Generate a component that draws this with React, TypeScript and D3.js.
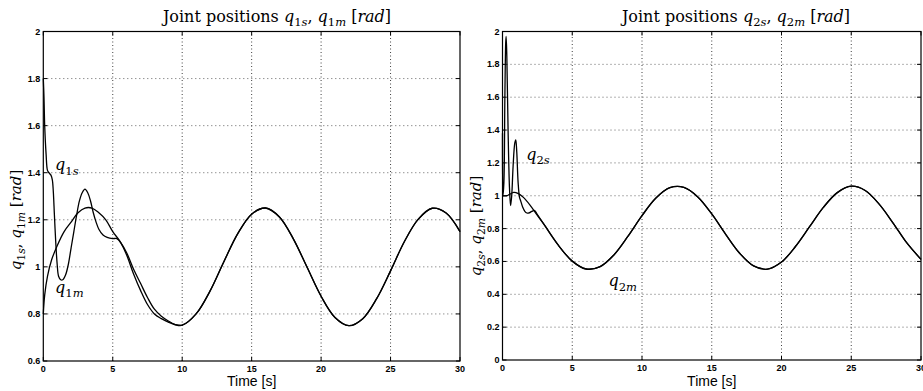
import { useRef, useEffect } from 'react';
import * as d3 from 'd3';

type Pt = [number, number];

// ---- data (time [s], value [rad]) ----
const q1sStart: Pt[] = [
  [0, 1.8], [0.05, 1.72], [0.1, 1.6], [0.2, 1.48], [0.3, 1.41], [0.4, 1.4], [0.55, 1.39],
  [0.65, 1.37], [0.72, 1.32], [0.8, 1.22], [0.9, 1.1], [1.0, 1.01], [1.1, 0.96], [1.25, 0.945],
  [1.4, 0.945], [1.6, 0.965], [1.8, 1.01], [2.0, 1.08], [2.2, 1.15], [2.4, 1.22], [2.6, 1.28],
  [2.8, 1.315], [3.0, 1.33], [3.2, 1.315], [3.4, 1.28], [3.6, 1.23], [3.8, 1.19], [4.0, 1.16],
  [4.3, 1.135], [4.6, 1.125], [5.0, 1.12], [5.3, 1.12], [5.6, 1.1], [6.0, 1.05], [6.5, 0.97],
  [7.0, 0.9], [7.5, 0.84], [8.0, 0.8], [8.5, 0.78], [9.0, 0.765], [9.5, 0.754],
];
const q1mStart: Pt[] = [
  [0, 0.8], [0.1, 0.88], [0.3, 0.96], [0.6, 1.03], [1.0, 1.09], [1.5, 1.15], [2.0, 1.19],
  [2.5, 1.23], [3.0, 1.25], [3.5, 1.25], [4.0, 1.23], [4.5, 1.2], [5.0, 1.15], [5.5, 1.11],
  [6.0, 1.06], [6.5, 0.99], [7.0, 0.93], [7.5, 0.87], [8.0, 0.82], [8.5, 0.79], [9.0, 0.77],
  [9.5, 0.755],
];
const q1Tail: Pt[] = [
  [10, 0.752], [11, 0.8], [12, 0.897], [13, 1.022], [14, 1.141], [15, 1.224], [16, 1.25],
  [17, 1.212], [18, 1.119], [19, 0.997], [20, 0.875], [21, 0.785], [22, 0.75], [23, 0.78],
  [24, 0.865], [25, 0.983], [26, 1.108], [27, 1.203], [28, 1.249], [29, 1.229], [30, 1.15],
];

const q2sStart: Pt[] = [
  [0, 1.38], [0.03, 1.0], [0.1, 1.08], [0.17, 1.6], [0.23, 1.93], [0.26, 1.97], [0.31, 1.85],
  [0.4, 1.4], [0.5, 1.05], [0.58, 0.94], [0.66, 1.0], [0.76, 1.18], [0.88, 1.32], [0.95, 1.34],
  [1.02, 1.27], [1.12, 1.08], [1.22, 0.99], [1.3, 0.97], [1.45, 0.93], [1.6, 0.905],
  [1.75, 0.895], [1.9, 0.895], [2.1, 0.905], [2.3, 0.91], [2.5, 0.885],
];
const q2mStart: Pt[] = [
  [0, 1.0], [0.3, 1.0], [0.5, 1.008], [0.8, 1.02], [1.1, 1.015], [1.5, 0.99], [2.0, 0.94],
  [2.5, 0.88],
];
const q2Tail: Pt[] = [
  [3, 0.822], [4, 0.699], [5, 0.602], [6, 0.554], [7, 0.569], [8, 0.641], [9, 0.754],
  [10, 0.879], [11, 0.986], [12, 1.049], [13, 1.051], [14, 0.993], [15, 0.889], [16, 0.765],
  [17, 0.65], [18, 0.573], [19, 0.553], [20, 0.596], [21, 0.691], [22, 0.81], [23, 0.929],
  [24, 1.019], [25, 1.058], [26, 1.032], [27, 0.949], [28, 0.834], [29, 0.711], [30, 0.613],
];

const xTicks = [0, 5, 10, 15, 20, 25, 30];
const y1Ticks = [0.6, 0.8, 1, 1.2, 1.4, 1.6, 1.8, 2];
const y2Ticks = [0, 0.2, 0.4, 0.6, 0.8, 1, 1.2, 1.4, 1.6, 1.8, 2];

type Seg = { t: string; i?: boolean; sub?: boolean };
const q = (n: string, s: string): Seg[] => [
  { t: 'q', i: true },
  { t: n, sub: true },
  { t: s, i: true, sub: true },
];
const rad: Seg[] = [{ t: ' [' }, { t: 'rad', i: true }, { t: ']' }];

const W = 923;
const H = 391;
const SERIF = '"DejaVu Serif", "Liberation Serif", serif';
const SANS = '"Liberation Sans", Arial, sans-serif';

function addMath(
  text: d3.Selection<SVGTextElement, unknown, null, undefined>,
  segs: Seg[],
  size: number,
) {
  let down = false;
  segs.forEach((s) => {
    const ts = text
      .append('tspan')
      .text(s.t)
      .attr('font-style', s.i ? 'italic' : 'normal')
      .attr('font-size', s.sub ? size * 0.72 : size);
    if (s.sub && !down) {
      ts.attr('dy', size * 0.28);
      down = true;
    } else if (!s.sub && down) {
      ts.attr('dy', -size * 0.28);
      down = false;
    }
  });
}

interface PanelCfg {
  x0: number;
  x1: number;
  y0: number;
  y1: number;
  yDomain: [number, number];
  yTicks: number[];
  series: Pt[][];
  title: Seg[];
  ylabel: Seg[];
  titleX: number;
  ylabelY: number;
  ylabelX: number;
  labels: { segs: Seg[]; t: number; v: number }[];
}

export default function App() {
  const svgRef = useRef<SVGSVGElement>(null);

  useEffect(() => {
    document.body.style.margin = '0';
    const svg = d3.select(svgRef.current);
    svg.selectAll('*').remove();
    svg.append('rect').attr('width', W).attr('height', H).attr('fill', '#fff');

    const panels: PanelCfg[] = [
      {
        x0: 43.3, x1: 460, y0: 361, y1: 31.5,
        yDomain: [0.6, 2], yTicks: y1Ticks,
        series: [[...q1sStart, ...q1Tail], [...q1mStart, ...q1Tail]],
        title: [{ t: 'Joint positions ' }, ...q('1', 's'), { t: ', ' }, ...q('1', 'm'), ...rad],
        ylabel: [...q('1', 's'), { t: ', ' }, ...q('1', 'm'), ...rad],
        titleX: 277, ylabelX: 21, ylabelY: 220,
        labels: [
          { segs: q('1', 's'), t: 0.85, v: 1.41 },
          { segs: q('1', 'm'), t: 0.85, v: 0.89 },
        ],
      },
      {
        x0: 502.5, x1: 921, y0: 360, y1: 31.5,
        yDomain: [0, 2], yTicks: y2Ticks,
        series: [[...q2sStart, ...q2Tail], [...q2mStart, ...q2Tail]],
        title: [{ t: 'Joint positions ' }, ...q('2', 's'), { t: ', ' }, ...q('2', 'm'), ...rad],
        ylabel: [...q('2', 's'), { t: ', ' }, ...q('2', 'm'), ...rad],
        titleX: 736, ylabelX: 481, ylabelY: 226,
        labels: [
          { segs: q('2', 's'), t: 1.7, v: 1.22 },
          { segs: q('2', 'm'), t: 7.6, v: 0.45 },
        ],
      },
    ];

    panels.forEach((p) => {
      const x = d3.scaleLinear().domain([0, 30]).range([p.x0, p.x1]);
      const y = d3.scaleLinear().domain(p.yDomain).range([p.y0, p.y1]);
      const g = svg.append('g');

      // grid
      xTicks.slice(1, -1).forEach((t) => {
        g.append('line')
          .attr('x1', x(t)).attr('x2', x(t))
          .attr('y1', p.y0).attr('y2', p.y1)
          .attr('stroke', '#000').attr('stroke-width', 1)
          .attr('stroke-dasharray', '1,2.5').attr('opacity', 0.75);
      });
      p.yTicks.slice(1, -1).forEach((v) => {
        g.append('line')
          .attr('x1', p.x0).attr('x2', p.x1)
          .attr('y1', y(v)).attr('y2', y(v))
          .attr('stroke', '#000').attr('stroke-width', 1)
          .attr('stroke-dasharray', '1,3').attr('opacity', 0.6);
      });

      // ticks (inside, all four sides)
      xTicks.forEach((t) => {
        g.append('line').attr('x1', x(t)).attr('x2', x(t))
          .attr('y1', p.y0).attr('y2', p.y0 - 4).attr('stroke', '#000');
        g.append('line').attr('x1', x(t)).attr('x2', x(t))
          .attr('y1', p.y1).attr('y2', p.y1 + 4).attr('stroke', '#000');
        g.append('text')
          .attr('x', x(t)).attr('y', p.y0 + 11)
          .attr('text-anchor', 'middle')
          .attr('font-family', SANS).attr('font-weight', 'bold').attr('font-size', 9)
          .text(t);
      });
      p.yTicks.forEach((v) => {
        g.append('line').attr('x1', p.x0).attr('x2', p.x0 + 4)
          .attr('y1', y(v)).attr('y2', y(v)).attr('stroke', '#000');
        g.append('line').attr('x1', p.x1).attr('x2', p.x1 - 4)
          .attr('y1', y(v)).attr('y2', y(v)).attr('stroke', '#000');
        g.append('text')
          .attr('x', p.x0 - 3).attr('y', y(v) + 3)
          .attr('text-anchor', 'end')
          .attr('font-family', SANS).attr('font-weight', 'bold').attr('font-size', 9)
          .text(d3.format('~g')(v));
      });

      // frame
      g.append('rect')
        .attr('x', p.x0).attr('y', p.y1)
        .attr('width', p.x1 - p.x0).attr('height', p.y0 - p.y1)
        .attr('fill', 'none').attr('stroke', '#000').attr('stroke-width', 1.2);

      // curves
      const line = d3.line<Pt>()
        .x((d) => x(d[0]))
        .y((d) => y(d[1]))
        .curve(d3.curveCatmullRom.alpha(0.5));
      p.series.forEach((s) => {
        g.append('path')
          .attr('d', line(s))
          .attr('fill', 'none')
          .attr('stroke', '#000')
          .attr('stroke-width', 1.3);
      });

      // curve labels
      p.labels.forEach((l) => {
        const t = g.append('text')
          .attr('x', x(l.t)).attr('y', y(l.v))
          .attr('font-family', SERIF);
        addMath(t, l.segs, 16);
      });

      // title
      const title = g.append('text')
        .attr('x', p.titleX).attr('y', 22)
        .attr('text-anchor', 'middle')
        .attr('font-family', SERIF);
      addMath(title, p.title, 16);

      // y label
      const yl = g.append('text')
        .attr('transform', `translate(${p.ylabelX},${p.ylabelY}) rotate(-90)`)
        .attr('text-anchor', 'middle')
        .attr('font-family', SERIF);
      addMath(yl, p.ylabel, 15);

      // x label
      g.append('text')
        .attr('x', (p.x0 + p.x1) / 2).attr('y', 386)
        .attr('text-anchor', 'middle')
        .attr('font-family', SANS).attr('font-size', 14)
        .text('Time [s]');
    });
  }, []);

  return <svg ref={svgRef} width={W} height={H} style={{ display: 'block' }} />;
}
